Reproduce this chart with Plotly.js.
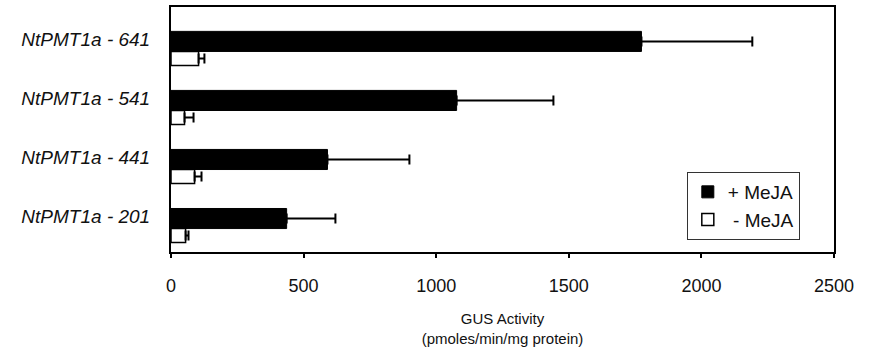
<!DOCTYPE html>
<html>
<head>
<meta charset="utf-8">
<script src="https://cdn.plot.ly/plotly-3.0.1.min.js"></script>
<style>html,body{margin:0;padding:0;background:#fff;}#chart{width:871px;height:351px;}</style>
</head>
<body>
<div id="chart"></div>
<script>
// Categories (bottom to top)
const categories = ['NtPMT1a - 201', 'NtPMT1a - 441', 'NtPMT1a - 541', 'NtPMT1a - 641'];
// + MeJA
const plusMeJA = [436, 590, 1077, 1774];
const plusMeJAErr = [184, 309, 365, 418];
// - MeJA
const minusMeJA = [55, 89, 51, 104];
const minusMeJAErr = [11, 26, 34, 22];
// x tick values
const xTicks = [0, 500, 1000, 1500, 2000, 2500];

const zeros = categories.map(() => 0);

const traces = [
  {
    type: 'bar', orientation: 'h', name: '+ MeJA',
    y: categories, x: plusMeJA,
    offset: -0.203, width: 0.34,
    marker: {color: '#000000', line: {color: '#000000', width: 1}},
    error_x: {type: 'data', array: plusMeJAErr, arrayminus: zeros, symmetric: false,
              color: '#000000', thickness: 2, width: 5},
    hoverinfo: 'skip'
  },
  {
    type: 'bar', orientation: 'h', name: ' - MeJA',
    y: categories, x: minusMeJA,
    offset: -0.44, width: 0.238,
    marker: {color: '#ffffff', line: {color: '#000000', width: 1.5}},
    error_x: {type: 'data', array: minusMeJAErr, arrayminus: zeros, symmetric: false,
              color: '#000000', thickness: 2, width: 5},
    hoverinfo: 'skip'
  }
];

const layout = {
  width: 871, height: 351,
  margin: {l: 171, r: 37, t: 7, b: 99},
  paper_bgcolor: '#ffffff', plot_bgcolor: '#ffffff',
  font: {family: '"Liberation Sans", Arial, sans-serif', color: '#000000'},
  showlegend: true,
  barmode: 'overlay',
  xaxis: {
    range: [0, 2500],
    tickvals: xTicks,
    ticktext: xTicks.map(String),
    showgrid: false, zeroline: false,
    showline: true, linecolor: '#000000', linewidth: 2, mirror: true,
    ticks: 'outside', ticklen: 4, tickwidth: 2, tickcolor: '#000000',
    tickfont: {size: 18, color: '#111111'},
    ticklabelstandoff: 12,
    title: {text: 'GUS Activity<br>(pmoles/min/mg protein)', font: {size: 15, color: '#111111'}, standoff: 19}
  },
  yaxis: {
    type: 'category',
    categoryorder: 'array', categoryarray: categories,
    range: [-0.6, 3.55],
    showgrid: false, zeroline: false,
    showline: true, linecolor: '#000000', linewidth: 2, mirror: true,
    ticks: '',
    tickfont: {size: 19, style: 'italic', color: '#111111'},
    ticklabelstandoff: 15
  },
  legend: {
    x: 0.778, y: 0.3265, xanchor: 'left', yanchor: 'top',
    bgcolor: '#ffffff', bordercolor: '#333333', borderwidth: 1,
    font: {size: 19, color: '#111111'},
    traceorder: 'normal'
  }
};

Plotly.newPlot('chart', traces, layout, {staticPlot: true, displayModeBar: false});
</script>
</body>
</html>
